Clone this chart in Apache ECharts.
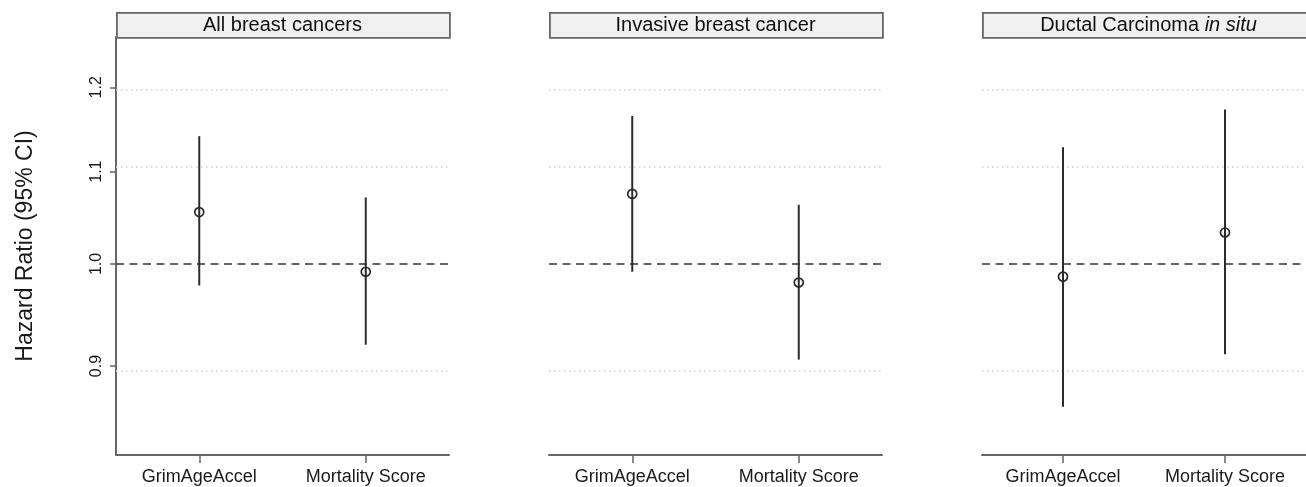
<!DOCTYPE html>
<html><head><meta charset="utf-8">
<script src="https://cdn.jsdelivr.net/npm/echarts@6/dist/echarts.min.js"></script>
<style>html,body{margin:0;padding:0;background:#fff}#c{width:1306px;height:487px}</style>
</head><body><div id="c"></div>
<script>
const categories = ['GrimAgeAccel', 'Mortality Score'];
const panelTitles = ['All breast cancers', 'Invasive breast cancer', 'Ductal Carcinoma in situ'];
const hrAll  = [1.055, 0.992];
const loAll  = [0.978, 0.920];
const hiAll  = [1.141, 1.071];
const hrInv  = [1.075, 0.981];
const loInv  = [0.992, 0.906];
const hiInv  = [1.165, 1.063];
const hrDcis = [0.987, 1.033];
const loDcis = [0.863, 0.911];
const hiDcis = [1.128, 1.173];
const yTicks = [0.9, 1.0, 1.1, 1.2];
const gridTicks = [0.9, 1.1, 1.2];
const refValue = 1.0;
const yMin = 0.821, yMax = 1.264;

const panels = [[hrAll, loAll, hiAll], [hrInv, loInv, hiInv], [hrDcis, loDcis, hiDcis]];
const L = Math.log;
const lefts = [116, 549, 982];
const W = 333, TOP = 37, H = 418;
const ink = '#2b2b2b';
const axisCol = '#666';
const font = '"Liberation Sans", Arial, sans-serif';

const grid = [], xAxis = [], yAxis = [], series = [], graphic = [];
panels.forEach((p, i) => {
  grid.push({left: lefts[i], top: TOP, width: W, height: H, containLabel: false});
  xAxis.push({
    type: 'category', gridIndex: i, data: categories, boundaryGap: true,
    axisLine: {show: true, onZero: false, lineStyle: {color: axisCol, width: 2}},
    axisTick: {show: true, alignWithLabel: true, length: 8, lineStyle: {color: axisCol, width: 1.5}},
    axisLabel: {color: '#1a1a1a', fontSize: 18, fontFamily: font, margin: 13},
    splitLine: {show: false}
  });
  yAxis.push({
    type: 'value', gridIndex: i, min: L(yMin), max: L(yMax),
    name: i === 0 ? 'Hazard Ratio (95% CI)' : '', nameLocation: 'middle', nameGap: 79,
    nameTextStyle: {color: '#1a1a1a', fontSize: 23, fontFamily: font},
    axisLine: {show: i === 0, onZero: false, lineStyle: {color: axisCol, width: 2}},
    axisTick: {show: i === 0, length: 6, customValues: yTicks.map(L), lineStyle: {color: axisCol, width: 1.5}},
    axisLabel: {show: i === 0, rotate: 90, margin: 11, color: '#1a1a1a', fontSize: 16, fontFamily: font,
      customValues: yTicks.map(L), formatter: v => Math.exp(v).toFixed(1)},
    splitLine: {show: false}
  });
  const [hr, lo, hi] = p;
  series.push({
    type: 'custom', xAxisIndex: i, yAxisIndex: i, silent: true, z: 3,
    data: categories.map((c, k) => [k, L(lo[k]), L(hi[k])]),
    renderItem: (params, api) => {
      const a = api.coord([api.value(0), api.value(1)]);
      const b = api.coord([api.value(0), api.value(2)]);
      return {type: 'line', shape: {x1: a[0], y1: a[1], x2: b[0], y2: b[1]},
        style: {stroke: ink, lineWidth: 2}};
    },
    markLine: {
      silent: true, symbol: 'none', label: {show: false}, z: 2,
      data: gridTicks.map(t => ({yAxis: L(t), lineStyle: {color: '#cfcfcf', type: [1.5, 3.5], width: 1.5}}))
        .concat([{yAxis: L(refValue), lineStyle: {color: '#333', type: [8, 5.5], width: 1.6}}])
    }
  });
  series.push({
    type: 'scatter', xAxisIndex: i, yAxisIndex: i, silent: true, z: 4,
    symbol: 'circle', symbolSize: 9,
    itemStyle: {color: 'rgba(0,0,0,0)', borderColor: ink, borderWidth: 1.7, opacity: 1},
    data: categories.map((c, k) => [k, L(hr[k])])
  });
  graphic.push({type: 'rect', left: lefts[i], top: 12, shape: {x: 0, y: 0, width: W, height: 25},
    style: {fill: '#f0f0f0', stroke: axisCol, lineWidth: 1.8}, z: 10});
  const t = panelTitles[i];
  const isInSitu = t.endsWith(' in situ');
  graphic.push({type: 'text', x: lefts[i] + W / 2, y: 25, z: 11,
    style: {
      text: isInSitu ? '{n|' + t.replace(' in situ', ' ') + '}{it|in situ}' : '{n|' + t + '}',
      align: 'center', verticalAlign: 'middle',
      rich: {n: {fontSize: 20, fontFamily: font, fill: '#111'},
             it: {fontSize: 20, fontFamily: font, fontStyle: 'italic', fill: '#111'}}
    }});
});

const chart = echarts.init(document.getElementById('c'), null, {renderer: 'canvas'});
chart.setOption({animation: false, backgroundColor: '#fff', grid, xAxis, yAxis, series, graphic});
</script></body></html>
